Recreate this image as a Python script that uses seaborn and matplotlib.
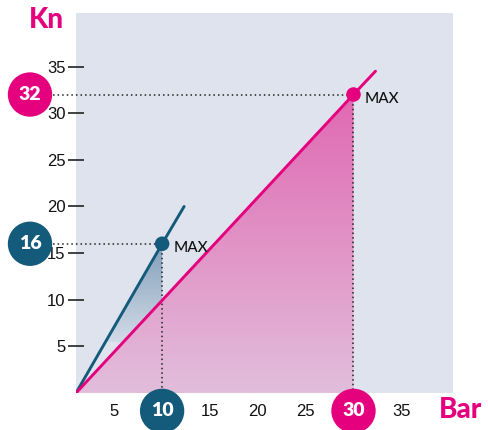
import numpy as np
import pandas as pd
import matplotlib
matplotlib.use("Agg")
import matplotlib.pyplot as plt
import matplotlib.transforms as mtransforms
from matplotlib.colors import LinearSegmentedColormap
from matplotlib.patches import Polygon
import seaborn as sns

# ---- data ----
blue_x = [1, 10, 12.3]
blue_y = [0, 16, 20.0]
pink_x = [1, 30, 32.3]
pink_y = [0, 32, 34.5]
blue_max = (10, 16)
pink_max = (30, 32)
xticks = [5, 15, 20, 25, 35]
yticks = [5, 10, 15, 20, 25, 30, 35]
x_label = "Bar"
y_label = "Kn"
max_label = "MAX"

PINK = "#e5007d"
BLUE = "#145a7a"
BG = "#dfe3ee"

sns.set_style("white")
plt.rcParams["font.family"] = ["Liberation Sans Narrow", "Liberation Sans", "DejaVu Sans"]

fig = plt.figure(figsize=(4.89, 4.30), dpi=100)
ax = fig.add_axes([0.1554, 0.0860, 0.7710, 0.8840])
ax.set_facecolor(BG)
for s in ax.spines.values():
    s.set_visible(False)

XLIM = (1.0, 40.4)
YLIM = (0.0, 40.75)


def gradient_fill(px, py, c_top, c_bot, y0, y1, z):
    cmap = LinearSegmentedColormap.from_list("g", [c_bot, c_top])
    grad = np.linspace(0, 1, 256).reshape(-1, 1)
    im = ax.imshow(grad, cmap=cmap, extent=[min(px), max(px), y0, y1],
                   origin="lower", aspect="auto", zorder=z)
    poly = Polygon(np.column_stack([px, py]), closed=True,
                   transform=ax.transData, fc="none", ec="none")
    ax.add_patch(poly)
    im.set_clip_path(poly)


# area between the blue line and the pink line up to the blue maximum
slope_p = (pink_y[1] - pink_y[0]) / (pink_x[1] - pink_x[0])
pink_at_bx = pink_y[0] + slope_p * (blue_max[0] - pink_x[0])
gradient_fill([blue_x[0], blue_max[0], blue_max[0]],
              [blue_y[0], blue_max[1], pink_at_bx],
              "#819fb9", "#d3dbe8", pink_at_bx * 0.55, blue_max[1], 1)

# area under the pink line up to the pink maximum
gradient_fill([pink_x[0], pink_max[0], pink_max[0]],
              [pink_y[0], pink_max[1], 0],
              "#e068b2", "#e2bedb", 0, pink_max[1], 1)

df = pd.DataFrame({"x": blue_x + pink_x, "y": blue_y + pink_y,
                   "s": ["b"] * 3 + ["p"] * 3})
sns.lineplot(data=df, x="x", y="y", hue="s", palette={"b": BLUE, "p": PINK},
             linewidth=2.1, legend=False, ax=ax, zorder=3, sort=False)
sns.scatterplot(x=[blue_max[0], pink_max[0]], y=[blue_max[1], pink_max[1]],
                hue=["b", "p"], palette={"b": BLUE, "p": PINK}, s=110,
                edgecolor="none", legend=False, ax=ax, zorder=4)

ax.set_xlim(*XLIM)
ax.set_ylim(*YLIM)

# badge / leader geometry in axes fractions
badge_left = -0.122
badge_bottom = -0.047
lead_start = -0.06


def ax_frac_x(v):
    return (v - XLIM[0]) / (XLIM[1] - XLIM[0])


def ax_frac_y(v):
    return (v - YLIM[0]) / (YLIM[1] - YLIM[0])


badge_font = dict(color="white", fontsize=14, fontweight="heavy",
                  family=["Lato", "DejaVu Sans"], zorder=7)
dot = dict(color="#222222", lw=1.1, ls=(0, (1, 2)), zorder=2)
for (mx, my), col in [(blue_max, BLUE), (pink_max, PINK)]:
    # horizontal leader to the left badge
    ax.plot([lead_start, ax_frac_x(mx)], [ax_frac_y(my)] * 2,
            transform=ax.transAxes, clip_on=False, **dot)
    # vertical leader down to the bottom badge
    ax.plot([ax_frac_x(mx)] * 2, [ax_frac_y(my), badge_bottom + 0.01],
            transform=ax.transAxes, clip_on=False, **dot)
    # badges
    ty = mtransforms.blended_transform_factory(ax.transAxes, ax.transData)
    tx = mtransforms.blended_transform_factory(ax.transData, ax.transAxes)
    ax.scatter([badge_left], [my], s=1020, color=col, transform=ty,
               clip_on=False, zorder=6, edgecolor="none")
    ax.text(badge_left, my, f"{my}", transform=ty, ha="center", va="center",
            **badge_font)
    ax.scatter([mx], [badge_bottom], s=1020, color=col, transform=tx,
               clip_on=False, zorder=6, edgecolor="none")
    ax.text(mx, badge_bottom, f"{mx}", transform=tx, ha="center", va="center",
            **badge_font)
    # MAX label
    ax.annotate(max_label, (mx, my), xytext=(8, -3), textcoords="offset points",
                ha="left", va="center", fontsize=11, color="#111111",
                fontweight="medium", family=["Lato", "DejaVu Sans"], zorder=5)

ax.set_xticks(xticks)
ax.set_yticks(yticks)
ax.set_xticklabels([str(v) for v in xticks])
ax.set_yticklabels([str(v) for v in yticks])
ax.tick_params(axis="x", direction="in", length=7.5, width=1.2, color="#222222",
               pad=8, labelsize=12, labelcolor="#111111")
ax.tick_params(axis="y", direction="inout", length=11, width=1.2, color="#222222",
               pad=2, labelsize=12, labelcolor="#111111", left=True)
ax.set_xlabel("")
ax.set_ylabel("")

fig.text(46 / 489, 1 - 20 / 430, y_label, ha="center", va="center", color=PINK,
         fontsize=20, fontweight="black", family=["Lato", "DejaVu Sans"])
fig.text(461 / 489, 1 - 410 / 430, x_label, ha="center", va="center", color=PINK,
         fontsize=20, fontweight="black", family=["Lato", "DejaVu Sans"])

fig.savefig("out.png", dpi=100)
